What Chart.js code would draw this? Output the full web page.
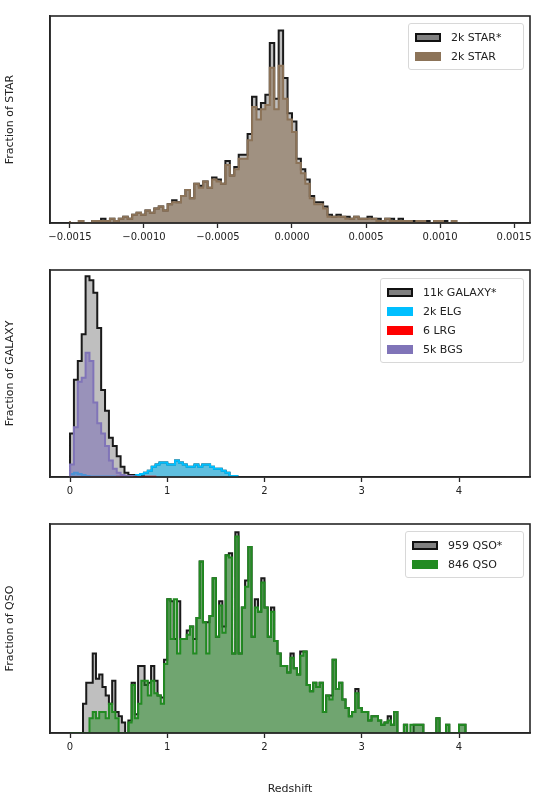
<!DOCTYPE html>
<html><head><meta charset="utf-8">
<script src="https://cdn.jsdelivr.net/npm/chart.js@4"></script>
<style>
body{margin:0;background:#fff;font-family:"DejaVu Sans",sans-serif;}
#wrap{position:relative;width:550px;height:800px;}
.pan{position:absolute;left:0;width:550px;}
.leg{position:absolute;border:1.5px solid #d8d8d8;border-radius:3px;background:rgba(255,255,255,0.85);font-size:11px;color:#222;padding:4px 6px 3px 6px;}
.leg div{display:flex;align-items:center;height:19px;}
.leg span.b{display:inline-block;width:26px;height:9px;margin-right:10px;box-sizing:border-box;}
</style></head><body>
<div id="wrap">
<div class="pan" style="top:0;height:253px"><canvas id="c1"></canvas></div>
<div class="pan" style="top:254px;height:253px"><canvas id="c2"></canvas></div>
<div class="pan" style="top:508px;height:292px"><canvas id="c3"></canvas></div>
<div class="leg" style="left:408px;top:23px;width:102px">
 <div><span class="b" style="background:#808080;border:2px solid #111"></span>2k STAR*</div>
 <div><span class="b" style="background:#8c7358"></span>2k STAR</div>
</div>
<div class="leg" style="left:380px;top:278px;width:130px">
 <div><span class="b" style="background:#808080;border:2px solid #111"></span>11k GALAXY*</div>
 <div><span class="b" style="background:#00bfff"></span>2k ELG</div>
 <div><span class="b" style="background:#ff0000"></span>6 LRG</div>
 <div><span class="b" style="background:#8074b8"></span>5k BGS</div>
</div>
<div class="leg" style="left:405px;top:531px;width:105px">
 <div><span class="b" style="background:#808080;border:2px solid #111"></span>959 QSO*</div>
 <div><span class="b" style="background:#228b22"></span>846 QSO</div>
</div>
</div>
<script>
// ---- Panel 1: STAR (bins of 0.00003 starting at -0.0015) ----
const STAR_START = -0.0015, STAR_WIDTH = 0.00003;
const starAll = [1,0,0,1,0,0,1,1,2,1, 2,1,2,3,2,4,5,4,6,5, 7,8,6,9,11,10,13,16,12,19,
 18,20,17,22,21,19,30,23,27,33, 33,43,61,55,58,62,87,60,93,70,
 53,49,31,26,21,13,10,10,8,4, 3,4,3,3,2,3,2,2,3,2, 2,1,2,2,1,2,1,1,1,1, 1,1,0,1,1,1,0,1,0,0];
const starSel = [1,0,0,1,0,0,1,1,1,1, 2,1,2,3,2,4,5,4,6,5, 7,8,6,9,10,10,13,16,12,19,
 17,20,17,21,20,19,28,23,26,31, 31,40,56,50,55,57,75,55,76,60,
 50,44,29,24,19,12,9,9,7,3, 3,3,3,2,2,3,2,2,2,2, 1,1,2,1,1,1,1,1,0,1, 1,0,0,1,1,0,0,1,0,0];
const STAR_TICKS = [-0.0015,-0.001,-0.0005,0,0.0005,0.001,0.0015];

// ---- Panel 2: GALAXY (bins of 0.04 starting at 0) ----
const GAL_START = 0, GAL_WIDTH = 0.04, GAL_END = 4.48;
const galaxyAll = [14,21,47,56,69,97,95,89,72,42,32,19,15,10,5,2,1,1,0.5,1,
 2,3,5,6,7,7,6,6,8,7,6,5,5,6,5,6,6,5,4,4,3,2,0.5];
const elg = [0.5,1.5,2,1.5,1,0.5,0.3,0.3,0.2,0.2,0.2,0.2,0.2,0.3,0.3,0.3,0.3,0.5,1,1.5,
 2,3,5,6,7,7,6,6,8,7,6,5,5,6,5,6,6,5,4,4,3,2,0.5];
const lrg = [0,0,0,0,0,0,0,0,0,0,0,0,0,0.2,0.2,0.2,0,0.2,0,0,0.2,0.2];
const bgs = [3,6,24,46,48,60,56,36,26,21,15,8,4,2,1,0.5];
const Z_TICKS = [0,1,2,3,4];

// ---- Panel 3: QSO (bins of 1/30 starting at 0) ----
const QSO_START = 0, QSO_WIDTH = 1/30;
const qsoAll = [0,0,0,0,0, 14,24,24,38,26, 28,22,18,14,25, 10,8,5,0,6,
 24,9,32,32,23, 24,32,25,18,17, 35,64,63,45,63, 45,45,49,51,45,
 55,82,53,53,56, 74,46,63,51,85, 86,38,96,38,60, 73,89,46,64,58,
 74,60,46,60,44, 38,32,32,29,38, 31,28,39,39,23, 20,24,22,24,10,
 18,18,35,21,24, 16,12,8,10,21, 12,10,10,6,8, 8,6,4,5,8,
 4,10,0,0,4, 0,0,4,4,4, 0,0,0,0,7, 0,0,4,0,0, 0,4];
const qsoSel = [0,0,0,0,0, 0,0,7,10,7, 10,10,7,14,10, 7,0,0,0,5,
 23,7,14,25,25, 18,25,19,18,14, 33,64,45,64,38, 45,45,47,51,38,
 55,82,53,38,56, 74,46,61,48,85, 84,38,94,38,60, 70,89,46,60,58,
 72,60,46,58,44, 38,32,32,29,36, 31,28,37,39,23, 20,24,22,24,10,
 18,16,35,21,24, 16,12,8,10,19, 12,10,10,6,8, 8,6,4,5,6,
 4,10,0,0,4, 0,4,4,4,4, 0,0,0,0,7, 0,0,4,0,0, 0,4];

function steps(vals, start, width, end){
  const pts=[{x:start,y:0}];
  vals.forEach((v,i)=>{pts.push({x:start+i*width,y:v});});
  const last=start+vals.length*width;
  pts.push({x:last,y:vals[vals.length-1]});
  pts.push({x:last,y:0});
  if(end!==undefined && end>last) pts.push({x:end,y:0});
  return pts;
}
function ds(vals,start,width,line,fill,order,lw,end){
  return {data:steps(vals,start,width,end),stepped:'after',borderColor:line,backgroundColor:fill,
    fill:'origin',pointRadius:0,borderWidth:lw,order:order,tension:0};
}
const frame={id:'frame',afterDraw(c){const a=c.chartArea,x=c.ctx;x.save();x.strokeStyle='#262626';x.lineWidth=1.6;
  x.strokeRect(a.left,a.top,a.right-a.left,a.bottom-a.top);x.restore();}};
function opts(xmin,xmax,ticks,ytitle,xtitle,fmt,xh){
  return {responsive:true,maintainAspectRatio:false,animation:false,
   layout:{padding:{top:16,right:20,left:0,bottom:0}},
   plugins:{legend:{display:false},tooltip:{enabled:false}},
   scales:{
    x:{type:'linear',min:xmin,max:xmax,
      afterBuildTicks(s){s.ticks=ticks.map(v=>({value:v}));},
      afterFit(s){s.height=xh;},
      ticks:{autoSkip:false,maxRotation:0,color:'#222',font:{size:10,family:'DejaVu Sans'},padding:3,callback:fmt},
      grid:{drawOnChartArea:false,tickLength:5,color:'#262626',tickWidth:1.3},
      border:{color:'#262626',width:1.6},
      title:{display:!!xtitle,text:xtitle||'',color:'#222',font:{size:11,family:'DejaVu Sans'},padding:{top:2}}},
    y:{min:0,max:100,afterFit(s){s.width=50;},ticks:{display:false},
      grid:{display:false},border:{color:'#262626',width:1.6},
      title:{display:true,text:ytitle,color:'#222',font:{size:11,family:'DejaVu Sans'},padding:{bottom:10}}}
   }};
}
const starFmt=v=>{const s=Math.abs(v).toFixed(4);return (v<-1e-12?'\u2212':'')+s;};
const zFmt=v=>String(v);

new Chart(document.getElementById('c1'),{type:'line',data:{datasets:[
  ds(starAll,STAR_START,STAR_WIDTH,'#1a1a1a','rgba(128,128,128,0.5)',2,2),
  ds(starSel,STAR_START,STAR_WIDTH,'#8c7358','rgba(140,115,88,0.6)',1,2)
]},options:opts(-0.001635,0.001608,STAR_TICKS,'Fraction of STAR',null,starFmt,30),plugins:[frame]});

new Chart(document.getElementById('c2'),{type:'line',data:{datasets:[
  ds(galaxyAll,GAL_START,GAL_WIDTH,'#1a1a1a','rgba(128,128,128,0.5)',4,2,GAL_END),
  ds(elg,GAL_START,GAL_WIDTH,'#00bfff','rgba(0,191,255,0.5)',3,2),
  ds(lrg,GAL_START,GAL_WIDTH,'#ff0000','rgba(255,0,0,0.5)',2,1.5),
  ds(bgs,GAL_START,GAL_WIDTH,'#8074b8','rgba(128,116,184,0.6)',1,2)
]},options:opts(-0.206,4.73,Z_TICKS,'Fraction of GALAXY',null,zFmt,30),plugins:[frame]});

new Chart(document.getElementById('c3'),{type:'line',data:{datasets:[
  ds(qsoAll,QSO_START,QSO_WIDTH,'#1a1a1a','rgba(128,128,128,0.5)',2,2),
  ds(qsoSel,QSO_START,QSO_WIDTH,'#228b22','rgba(34,139,34,0.5)',1,2)
]},options:opts(-0.206,4.73,Z_TICKS,'Fraction of QSO','Redshift',zFmt,67),plugins:[frame]});
</script>
</body></html>
